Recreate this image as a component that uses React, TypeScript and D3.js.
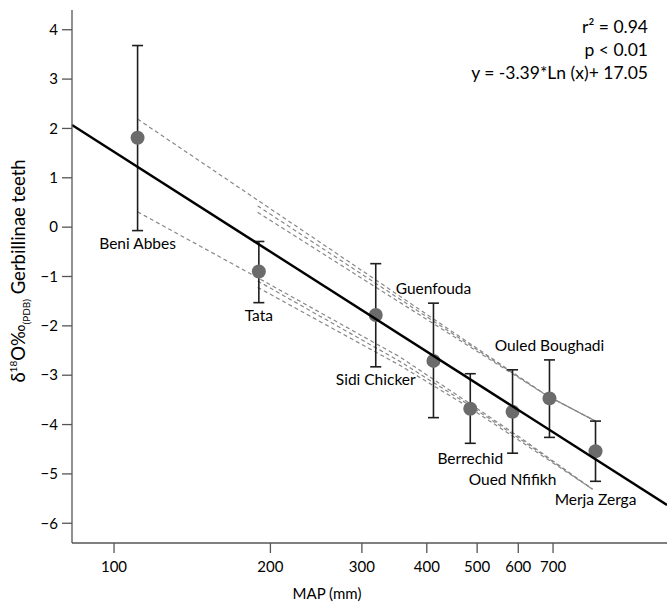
import * as d3 from "d3";

// sites, ordered by mean annual precipitation
const sites = ["Beni Abbes", "Tata", "Sidi Chicker", "Guenfouda", "Berrechid", "Oued Nfifikh", "Ouled Boughadi", "Merja Zerga"];
const mapMm = [111, 190, 319, 412, 485, 585, 689, 845];
const d18O = [1.81, -0.9, -1.78, -2.71, -3.68, -3.74, -3.47, -4.54];
const errHigh = [3.68, -0.29, -0.74, -1.54, -2.97, -2.89, -2.69, -3.93];
const errLow = [-0.07, -1.53, -2.83, -3.86, -4.38, -4.58, -4.26, -5.15];

// regression line, drawn across the plot
const trendMap = [83, 1160];
const trendD18O = [2.07, -5.63];

// dashed envelope lines: [MAP, d18O] pairs
const upperLines = [
  [[111, 2.19], [683, -3.42], [845, -3.93]],
  [[189, 0.43], [683, -3.42], [845, -3.93]],
  [[189, 0.3], [683, -3.42], [845, -3.93]],
];
const lowerLines = [
  [[111, 0.31], [185, -0.97], [355, -2.63], [477, -3.53], [612, -4.3], [834, -5.31]],
  [[189, -1.09], [355, -2.72], [477, -3.57], [612, -4.33], [834, -5.31]],
  [[189, -1.22], [355, -2.8], [477, -3.62], [612, -4.37], [834, -5.31]],
];

const xTicks = [100, 200, 300, 400, 500, 600, 700];
const yTicks = [-6, -5, -4, -3, -2, -1, 0, 1, 2, 3, 4];
const stats = ["r² = 0.94", "p < 0.01", "y = -3.39*Ln (x)+ 17.05"];

// label side for each site (above or below its error bar) and extra nudge
const labelSide = ["below", "below", "below", "above", "below", "below", "above", "below"];
const labelNudge = [0, 0, 0, 0, 3, 14, 0, 6];

const width = 667;
const height = 605;
const left = 72;
const bottom = 543;
const font = "Lato, 'Open Sans', sans-serif";

export default function App() {
  const x = d3.scaleLog().domain([83, 1160]).range([left, width]);
  const y = d3.scaleLinear().domain([-6.4, 4.4]).range([bottom, 10]);

  const line = d3.line<number[]>().x(d => x(d[0])).y(d => y(d[1]));
  const trend = line(trendMap.map((m, i) => [m, trendD18O[i]]));

  return (
    <>
      <style>{`body{margin:0}`}</style>
      <svg width={width} height={height} style={{ display: "block", fontFamily: font }}>
        <rect width={width} height={height} fill="#fff" />

        {/* dashed envelopes */}
        <g fill="none" stroke="#888" strokeWidth={1.2} strokeDasharray="4,3">
          {upperLines.concat(lowerLines).map((l, i) => (
            <path key={i} d={line(l) || ""} />
          ))}
        </g>

        {/* error bars */}
        <g stroke="#1e1e1e" strokeWidth={1.6}>
          {sites.map((s, i) => {
            const cx = x(mapMm[i]);
            return (
              <g key={s}>
                <line x1={cx} x2={cx} y1={y(errHigh[i])} y2={y(errLow[i])} />
                <line x1={cx - 5.5} x2={cx + 5.5} y1={y(errHigh[i])} y2={y(errHigh[i])} />
                <line x1={cx - 5.5} x2={cx + 5.5} y1={y(errLow[i])} y2={y(errLow[i])} />
              </g>
            );
          })}
        </g>

        {/* points */}
        <g fill="#6b6b6b">
          {sites.map((s, i) => (
            <circle key={s} cx={x(mapMm[i])} cy={y(d18O[i])} r={7} />
          ))}
        </g>

        {/* regression */}
        <path d={trend || ""} fill="none" stroke="#000" strokeWidth={2.4} />

        {/* site labels */}
        <g fontSize={15.5} fill="#000" textAnchor="middle">
          {sites.map((s, i) => {
            const ty = labelSide[i] === "below" ? y(errLow[i]) + 18 + labelNudge[i] : y(errHigh[i]) - 9;
            return (
              <text key={s} x={x(mapMm[i])} y={ty}>
                {s}
              </text>
            );
          })}
        </g>

        {/* axes */}
        <g stroke="#555" strokeWidth={1.3}>
          <line x1={left} x2={left} y1={10} y2={bottom} />
          <line x1={left} x2={width} y1={bottom} y2={bottom} />
          {yTicks.map(t => (
            <line key={t} x1={left - 10} x2={left} y1={y(t)} y2={y(t)} />
          ))}
          {xTicks.map(t => (
            <line key={t} x1={x(t)} x2={x(t)} y1={bottom} y2={bottom + 10} />
          ))}
        </g>
        <g fontSize={15} fill="#000">
          {yTicks.map(t => (
            <text key={t} x={left - 14} y={y(t)} dy="0.35em" textAnchor="end">
              {t < 0 ? "\u2212" + Math.abs(t) : t}
            </text>
          ))}
          {xTicks.map(t => (
            <text key={t} x={x(t)} y={572} textAnchor="middle">
              {t}
            </text>
          ))}
        </g>
        <text x={327} y={599} fontSize={15} textAnchor="middle" fill="#000">
          MAP (mm)
        </text>
        <text transform="translate(25,271) rotate(-90)" fontSize={18.5} textAnchor="middle" fill="#000">
          δ<tspan fontSize={10} dy={-8}>18</tspan>
          <tspan dy={8}>O‰</tspan>
          <tspan fontSize={10} dy={5}>(PDB)</tspan>
          <tspan dy={-5}> Gerbillinae teeth</tspan>
        </text>

        {/* statistics */}
        <g fontSize={17.5} fill="#000" textAnchor="end">
          {stats.map((s, i) => (
            <text key={i} x={648} y={33 + i * 23}>
              {s}
            </text>
          ))}
        </g>
      </svg>
    </>
  );
}
